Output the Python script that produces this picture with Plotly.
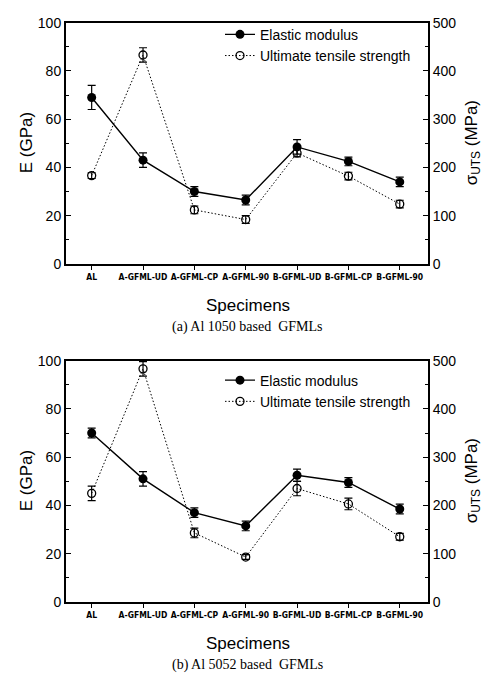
import plotly.graph_objects as go
from plotly.subplots import make_subplots

specimens = ["AL", "A-GFML-UD", "A-GFML-CP", "A-GFML-90", "B-GFML-UD", "B-GFML-CP", "B-GFML-90"]

# (a) Al 1050 based GFMLs
e_1050 = [69, 43, 30, 26.5, 48.5, 42.5, 34]
e_1050_err = [5, 3, 2, 2, 3, 1.8, 2]
uts_1050 = [183, 433, 112, 92, 230, 182, 124]
uts_1050_err = [6, 15, 8, 8, 8, 8, 8]

# (b) Al 5052 based GFMLs
e_5052 = [70, 51, 37, 31.5, 52.5, 49.5, 38.5]
e_5052_err = [2, 3, 2, 2, 2.5, 2, 2]
uts_5052 = [225, 483, 143, 93, 235, 203, 135]
uts_5052_err = [15, 15, 10, 5, 15, 12, 7]

panels = [
    ("(a) Al 1050 based  GFMLs", e_1050, e_1050_err, uts_1050, uts_1050_err),
    ("(b) Al 5052 based  GFMLs", e_5052, e_5052_err, uts_5052, uts_5052_err),
]

W, H = 485, 691
x0, x1 = 66, 428
plot_tops = [15, 361]
plot_h = 247
legend_offsets = [-4, 4]

def px_x(p):
    return p / W

def px_y(p):
    return 1 - p / H

fig = make_subplots(rows=2, cols=1, specs=[[{"secondary_y": True}], [{"secondary_y": True}]])

sans = "Liberation Sans, Arial, sans-serif"
narrow = "DejaVu Sans Condensed, Liberation Sans Narrow, Arial Narrow, sans-serif"
serif = "Liberation Serif, Times New Roman, serif"

def label(text, x, y, font, angle=0):
    return dict(text=text, x=px_x(x), y=px_y(y), xref="paper", yref="paper",
                xanchor="center", yanchor="middle", showarrow=False,
                textangle=angle, font=font)

annotations = []
for i, (caption, e, e_err, uts, uts_err) in enumerate(panels):
    row = i + 1
    legend_name = "legend" if i == 0 else "legend2"
    fig.add_trace(go.Scatter(
        x=specimens, y=e, name="Elastic modulus", mode="lines+markers",
        line=dict(color="black", width=1.4),
        marker=dict(symbol="circle", size=9, color="black"),
        error_y=dict(type="data", array=e_err, color="black", thickness=1.2, width=4),
        legend=legend_name,
    ), row=row, col=1, secondary_y=False)
    fig.add_trace(go.Scatter(
        x=specimens, y=uts, name="Ultimate tensile strength", mode="lines+markers",
        line=dict(color="black", width=1.0, dash="1.5px,2px"),
        marker=dict(symbol="circle-open", size=8, color="black", line=dict(width=1.3)),
        error_y=dict(type="data", array=uts_err, color="black", thickness=1.2, width=4),
        legend=legend_name,
    ), row=row, col=1, secondary_y=True)

    top = plot_tops[i]
    bottom = top + plot_h
    mid = top + plot_h / 2
    dom_y = [px_y(bottom), px_y(top)]
    dom_x = [px_x(x0), px_x(x1)]
    xa = "xaxis" if i == 0 else "xaxis2"
    ya = "yaxis" if i == 0 else "yaxis3"
    ya2 = "yaxis2" if i == 0 else "yaxis4"
    fig.update_layout({
        xa: dict(domain=dom_x, range=[-0.5, 6.55], showline=True, linecolor="black", linewidth=2,
                 mirror=True, ticks="outside", ticklen=4, tickcolor="black", tickwidth=1.2,
                 tickfont=dict(family=narrow, size=8.5, color="black", weight="bold"),
                 showgrid=False, zeroline=False, tickangle=0),
        ya: dict(domain=dom_y, range=[0, 100], dtick=20, showline=True, linecolor="black", linewidth=2,
                 ticks="inside", ticklen=5, tickcolor="black", tickwidth=1.2,
                 minor=dict(ticks="inside", ticklen=3, dtick=10, tickcolor="black"),
                 tickfont=dict(family=sans, size=14, color="black"),
                 showgrid=False, zeroline=False),
        ya2: dict(range=[0, 500], dtick=100, showline=True, linecolor="black", linewidth=2,
                  ticks="inside", ticklen=5, tickcolor="black", tickwidth=1.2,
                  minor=dict(ticks="inside", ticklen=3, dtick=50, tickcolor="black"),
                  tickfont=dict(family=sans, size=14, color="black"),
                  showgrid=False, zeroline=False),
    })
    fig.update_layout({
        legend_name: dict(x=px_x(220), y=px_y(top + legend_offsets[i]), xanchor="left", yanchor="top",
                          bgcolor="rgba(0,0,0,0)", font=dict(family=sans, size=14, color="black"),
                          itemwidth=30, tracegroupgap=0),
    })

    title_font = dict(family=sans, size=17, color="black")
    annotations.append(label("E (GPa)", 26, mid, title_font, -90))
    annotations.append(label("σ<sub>UTS</sub> (MPa)", 473, mid, title_font, -90))
    annotations.append(label("Specimens", 248, bottom + 43, title_font))
    annotations.append(label(caption, 248, bottom + 65, dict(family=serif, size=14, color="black")))

fig.update_layout(
    width=W, height=H, margin=dict(l=0, r=0, t=0, b=0),
    paper_bgcolor="white", plot_bgcolor="white",
    annotations=annotations, showlegend=True,
)

fig.write_html("out.html")
